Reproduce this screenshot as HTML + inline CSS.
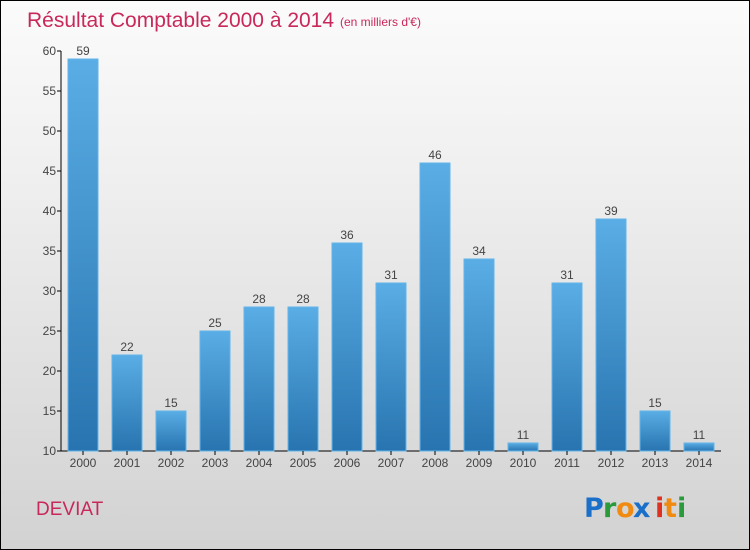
<!DOCTYPE html>
<html><head><meta charset="utf-8"><style>
body{margin:0}
#c{width:748px;height:548px;border:1px solid #000;background:linear-gradient(#fbfbfb,#f0f0f0 30%,#d2d2d2);position:relative;font-family:"Liberation Sans",sans-serif;overflow:hidden}
</style></head><body>
<div id="c">
<svg width="748" height="548" style="position:absolute;left:0;top:0" id="svg">
<defs><linearGradient id="bg" x1="0" y1="0" x2="0" y2="1"><stop offset="0" stop-color="#5aade5"/><stop offset="1" stop-color="#2874b0"/></linearGradient></defs>
<text x="26" y="26" font-size="21" fill="#c8285a">Résultat Comptable 2000 à 2014</text>
<text x="339" y="25" font-size="12" fill="#c8285a">(en milliers d'€)</text>
<text x="35" y="514" font-size="19" fill="#c8285a">DEVIAT</text>
<g font-size="27" font-family="'DejaVu Sans',sans-serif" font-weight="bold">
<text x="583" y="516" fill="#1a6fc8">P</text><text x="602" y="516" fill="#2a9a3a">r</text><text x="615" y="516" fill="#f08a10">o</text><text x="632" y="516" fill="#1a6fc8">x</text><text x="654" y="516" fill="#e03020">i</text><text x="663" y="516" fill="#f08a10">t</text><text x="676" y="516" fill="#2a9a3a">i</text></g>
</svg>
</div>
<script>
const categories=["2000","2001","2002","2003","2004","2005","2006","2007","2008","2009","2010","2011","2012","2013","2014"];
const values=[59,22,15,25,28,28,36,31,46,34,11,31,39,15,11];
const yTicks=[10,15,20,25,30,35,40,45,50,55,60];
const svg=document.getElementById('svg');const NS='http://www.w3.org/2000/svg';
const y=v=>450-(v-10)*8;const x=i=>82+i*44;
function mk(t,a,txt){const e=document.createElementNS(NS,t);for(const k in a)e.setAttribute(k,a[k]);if(txt!=null)e.textContent=txt;svg.appendChild(e);return e;}
let ax=mk('line',{x1:60,y1:50,x2:60,y2:450,stroke:'#000'});


let bx=mk('line',{x1:60,y1:450,x2:720,y2:450,stroke:'#000'});


yTicks.forEach(v=>{
 let t=mk('line',{x1:56,y1:y(v),x2:60,y2:y(v),stroke:'#000'});
 
 
 let l=mk('text',{x:55,y:y(v)+4,'font-size':12,fill:'#444','text-anchor':'end'},v);
 
 
});
categories.forEach((c,i)=>{
 let b=mk('rect',{x:x(i)-15,y:y(values[i]),width:30,height:450-y(values[i]),fill:'url(#bg)',stroke:'#62b4ea','stroke-width':1});
 
 
 let v=mk('text',{x:x(i),y:y(values[i])-4,'font-size':12,fill:'#444','text-anchor':'middle'},values[i]);
 
 
 let t=mk('line',{x1:x(i),y1:450,x2:x(i),y2:454,stroke:'#000'});
 
 
 let l=mk('text',{x:x(i),y:466,'font-size':12,fill:'#444','text-anchor':'middle'},c);
 
 
});
</script>
</body></html>
